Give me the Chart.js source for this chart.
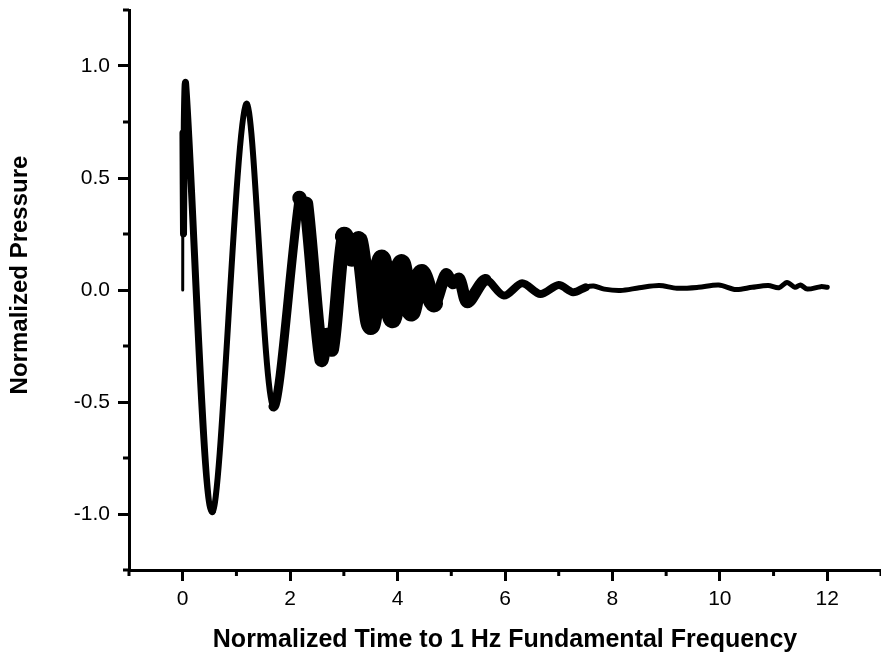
<!DOCTYPE html>
<html>
<head>
<meta charset="utf-8">
<script src="https://cdn.jsdelivr.net/npm/chart.js@4/dist/chart.umd.min.js"></script>
<style>
  body { margin: 0; background: #fff; }
  #wrap { width: 881px; height: 664px; position: relative; }
</style>
</head>
<body>
<div id="wrap"><canvas id="pressure-chart"></canvas></div>
<script>
// turning points of the trace
var timeVals = [0, 0.004, 0.015, 0.03, 0.055, 0.55, 1.18, 1.68, 2.17, 2.24, 2.30, 2.58, 2.68, 2.78,
    3.00, 3.14, 3.28, 3.50, 3.70, 3.90, 4.07, 4.25, 4.44, 4.68, 4.90, 5.03, 5.15, 5.30,
    5.64, 5.98, 6.32, 6.66, 7.00, 7.27, 7.50, 7.65, 7.85, 8.15, 8.50, 8.87, 9.20, 9.60,
    9.98, 10.30, 10.60, 10.90, 11.10, 11.25, 11.40, 11.50, 11.63, 11.88, 12.00];
var pressureVals = [0.00, 0.70, 0.25, 0.75, 0.92, -0.99, 0.83, -0.52, 0.41, 0.36, 0.385, -0.31, -0.20, -0.265,
    0.24, 0.145, 0.22, -0.16, 0.14, -0.13, 0.12, -0.10, 0.075, -0.06, 0.07, 0.03, 0.05, -0.055,
    0.045, -0.025, 0.03, -0.018, 0.022, -0.01, 0.012, 0.018, 0.004, -0.002, 0.01, 0.02, 0.008, 0.012,
    0.022, 0.002, 0.012, 0.02, 0.01, 0.034, 0.012, 0.022, 0.004, 0.015, 0.012];

var xTickLabels = [0, 2, 4, 6, 8, 10, 12];
var yTickLabels = [-1.0, -0.5, 0.0, 0.5, 1.0];

var xTitle = 'Normalized Time to 1 Hz Fundamental Frequency';
var yTitle = 'Normalized Pressure';

var FONT = '"Liberation Sans", Arial, sans-serif';

function isXLabel(v) { return xTickLabels.indexOf(Math.round(v * 1000) / 1000) >= 0; }
function isYLabel(v) {
    return yTickLabels.some(function(t) { return Math.abs(t - v) < 1e-6; });
}

// the trace gets fatter where the fast ripple fills it in
function traceWidth(x) {
    if (x < 0.002) return 3;
    if (x < 0.5) return 7;
    if (x < 1.6) return 6;
    if (x < 2.1) return 9;
    if (x < 2.9) return 14;
    if (x < 4.5) return 18;
    if (x < 5.6) return 12;
    if (x < 7.4) return 8;
    return 5;
}

var points = [];
for (var i = 0; i < timeVals.length; i++) {
    points.push({x: timeVals[i], y: pressureVals[i]});
}

// minor ticks + rotated y title
var extras = {
    id: 'extras',
    afterDraw: function(chart) {
        var ctx = chart.ctx, area = chart.chartArea;
        var xs = chart.scales.x, ys = chart.scales.y;
        ctx.save();
        ctx.strokeStyle = '#000';
        ctx.lineWidth = 3;
        ctx.beginPath();
        xs.ticks.forEach(function(t) {
            if (isXLabel(t.value)) return;
            var px = xs.getPixelForValue(t.value);
            ctx.moveTo(px, area.bottom);
            ctx.lineTo(px, area.bottom + 6);
        });
        ys.ticks.forEach(function(t) {
            if (isYLabel(t.value)) return;
            var py = ys.getPixelForValue(t.value);
            ctx.moveTo(area.left, py);
            ctx.lineTo(area.left - 6, py);
        });
        ctx.stroke();

        ctx.fillStyle = '#000';
        ctx.font = 'bold 24px ' + FONT;
        ctx.textAlign = 'center';
        ctx.textBaseline = 'middle';
        ctx.translate(20, 275);
        ctx.rotate(-Math.PI / 2);
        ctx.fillText(yTitle, 0, 0);
        ctx.restore();
    }
};

var chart = new Chart(document.getElementById('pressure-chart').getContext('2d'),
{
    type: 'scatter',
    data: {
        datasets: [{
            data: points,
            showLine: true,
            borderColor: '#000',
            backgroundColor: '#000',
            borderWidth: 6,
            pointRadius: 0,
            tension: 0.3,
            borderJoinStyle: 'round',
            borderCapStyle: 'round',
            segment: {
                borderWidth: function(ctx) { return traceWidth(ctx.p0.parsed.x); }
            }
        }]
    },
    options: {
        responsive: true,
        maintainAspectRatio: false,
        animation: false,
        layout: { padding: { top: 10, left: 0, right: 0, bottom: 0 } },
        plugins: {
            legend: { display: false },
            tooltip: { enabled: false }
        },
        scales: {
            x: {
                type: 'linear',
                min: -1,
                max: 13,
                ticks: {
                    stepSize: 1,
                    autoSkip: false,
                    maxRotation: 0,
                    padding: 6,
                    color: '#000',
                    font: { family: FONT, size: 21 },
                    callback: function(v) { return isXLabel(v) ? String(v) : ''; }
                },
                grid: {
                    drawOnChartArea: false,
                    drawTicks: true,
                    tickLength: 11,
                    tickWidth: 3,
                    tickColor: function(ctx) {
                        return ctx.tick && isXLabel(ctx.tick.value) ? '#000' : 'rgba(0,0,0,0)';
                    }
                },
                border: { display: true, color: '#000', width: 3 },
                title: {
                    display: true,
                    text: xTitle,
                    color: '#000',
                    font: { family: FONT, size: 25, weight: 'bold' },
                    padding: { top: 0, bottom: 9 }
                },
                afterFit: function(s) {
                    s.height = 94;
                    s.paddingLeft = 0;
                    s.paddingRight = 0;
                }
            },
            y: {
                type: 'linear',
                min: -1.25,
                max: 1.25,
                ticks: {
                    stepSize: 0.25,
                    autoSkip: false,
                    padding: 8,
                    color: '#000',
                    font: { family: FONT, size: 21 },
                    callback: function(v) { return isYLabel(v) ? Number(v).toFixed(1) : ''; }
                },
                grid: {
                    drawOnChartArea: false,
                    drawTicks: true,
                    tickLength: 11,
                    tickWidth: 3,
                    tickColor: function(ctx) {
                        return ctx.tick && isYLabel(ctx.tick.value) ? '#000' : 'rgba(0,0,0,0)';
                    }
                },
                border: { display: true, color: '#000', width: 3 },
                afterFit: function(s) {
                    s.width = 129;
                    s.paddingTop = 0;
                    s.paddingBottom = 0;
                }
            }
        }
    },
    plugins: [extras]
});
</script>
</body>
</html>
